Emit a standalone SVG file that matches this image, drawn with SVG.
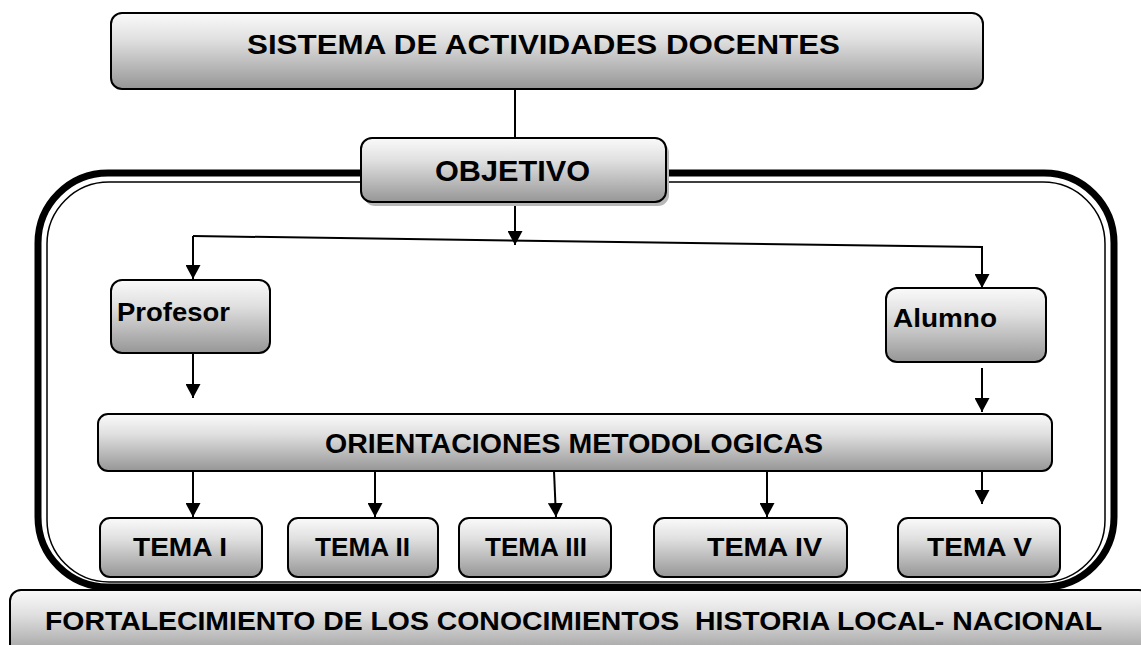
<svg xmlns="http://www.w3.org/2000/svg" width="1141" height="645" viewBox="0 0 1141 645">
<style>
.box{fill:url(#g);stroke:#000;stroke-width:2}
.t{font-family:"Liberation Sans",Arial,sans-serif;font-weight:bold;fill:#000}
.c{fill:none;stroke:#000;stroke-width:2}
</style>
<defs>
<linearGradient id="g" x1="0" y1="0" x2="0" y2="1">
<stop offset="0" stop-color="#fafafa"/>
<stop offset="0.35" stop-color="#e0e0e0"/>
<stop offset="1" stop-color="#969696"/>
</linearGradient>
<marker id="a" viewBox="0 0 14 15" refX="14" refY="7.5" markerWidth="14" markerHeight="15" markerUnits="userSpaceOnUse" orient="auto">
<path d="M0,0 L14,7.5 L0,15 Z" fill="#000"/>
</marker>
</defs>
<rect width="1141" height="645" fill="#fff"/>
<g id="container">
<rect x="38" y="173" width="1076" height="414" rx="70" fill="none" stroke="#000" stroke-width="7"/>
<rect x="47" y="182" width="1058" height="400" rx="62" fill="none" stroke="#000" stroke-width="1.5"/>
</g>
<g id="connectors">
<line class="c" x1="515" y1="89" x2="515" y2="138"/>
<line class="c" x1="515" y1="202" x2="515" y2="245" marker-end="url(#a)"/>
<polyline class="c" points="193,236 982,247 982,288" marker-end="url(#a)"/>
<polyline class="c" points="193,236 193,279" marker-end="url(#a)"/>
<line class="c" x1="193" y1="353" x2="193" y2="398" marker-end="url(#a)"/>
<line class="c" x1="982" y1="368" x2="982" y2="412" marker-end="url(#a)"/>
<line class="c" x1="193" y1="471" x2="193" y2="517" marker-end="url(#a)"/>
<line class="c" x1="375" y1="471" x2="375" y2="517" marker-end="url(#a)"/>
<line class="c" x1="554" y1="471" x2="556" y2="517" marker-end="url(#a)"/>
<line class="c" x1="767" y1="471" x2="767" y2="517" marker-end="url(#a)"/>
<line class="c" x1="982" y1="471" x2="982" y2="504" marker-end="url(#a)"/>
</g>
<g id="sistema">
<rect class="box" x="111" y="13" width="872" height="76" rx="11"/>
<text class="t" x="247" y="54" font-size="27" textLength="593" lengthAdjust="spacingAndGlyphs">SISTEMA DE ACTIVIDADES DOCENTES</text>
</g>
<g id="objetivo">
<rect x="364" y="142" width="305" height="64" rx="11" fill="#b8b8b8"/>
<rect class="box" x="361" y="138" width="305" height="64" rx="11"/>
<text class="t" x="435" y="181" font-size="30" textLength="155" lengthAdjust="spacingAndGlyphs">OBJETIVO</text>
</g>
<g id="profesor">
<rect class="box" x="111" y="280" width="159" height="73" rx="11"/>
<text class="t" x="117" y="321" font-size="26" textLength="113" lengthAdjust="spacingAndGlyphs">Profesor</text>
</g>
<g id="alumno">
<rect class="box" x="886" y="288" width="160" height="74" rx="11"/>
<text class="t" x="893" y="327" font-size="26" textLength="104" lengthAdjust="spacingAndGlyphs">Alumno</text>
</g>
<g id="orientaciones">
<rect class="box" x="98" y="414" width="954" height="57" rx="10"/>
<text class="t" x="325" y="453" font-size="27" textLength="498" lengthAdjust="spacingAndGlyphs">ORIENTACIONES METODOLOGICAS</text>
</g>
<g id="tema1">
<rect class="box" x="100" y="518" width="162" height="59" rx="10"/>
<text class="t" x="133" y="556" font-size="26" textLength="94" lengthAdjust="spacingAndGlyphs">TEMA I</text>
</g>
<g id="tema2">
<rect class="box" x="288" y="518" width="150" height="59" rx="10"/>
<text class="t" x="315" y="556" font-size="26" textLength="95" lengthAdjust="spacingAndGlyphs">TEMA II</text>
</g>
<g id="tema3">
<rect class="box" x="459" y="518" width="152" height="59" rx="10"/>
<text class="t" x="485" y="556" font-size="26" textLength="102" lengthAdjust="spacingAndGlyphs">TEMA III</text>
</g>
<g id="tema4">
<rect class="box" x="654" y="518" width="193" height="59" rx="10"/>
<text class="t" x="707" y="556" font-size="26" textLength="115" lengthAdjust="spacingAndGlyphs">TEMA IV</text>
</g>
<g id="tema5">
<rect class="box" x="898" y="518" width="162" height="59" rx="10"/>
<text class="t" x="927" y="556" font-size="26" textLength="105" lengthAdjust="spacingAndGlyphs">TEMA V</text>
</g>
<g id="fortalecimiento">
<rect class="box" x="10" y="590" width="1140" height="70" rx="11"/>
<text class="t" x="45" y="630" font-size="26" textLength="1057" lengthAdjust="spacingAndGlyphs" xml:space="preserve">FORTALECIMIENTO DE LOS CONOCIMIENTOS  HISTORIA LOCAL- NACIONAL</text>
</g>
</svg>
